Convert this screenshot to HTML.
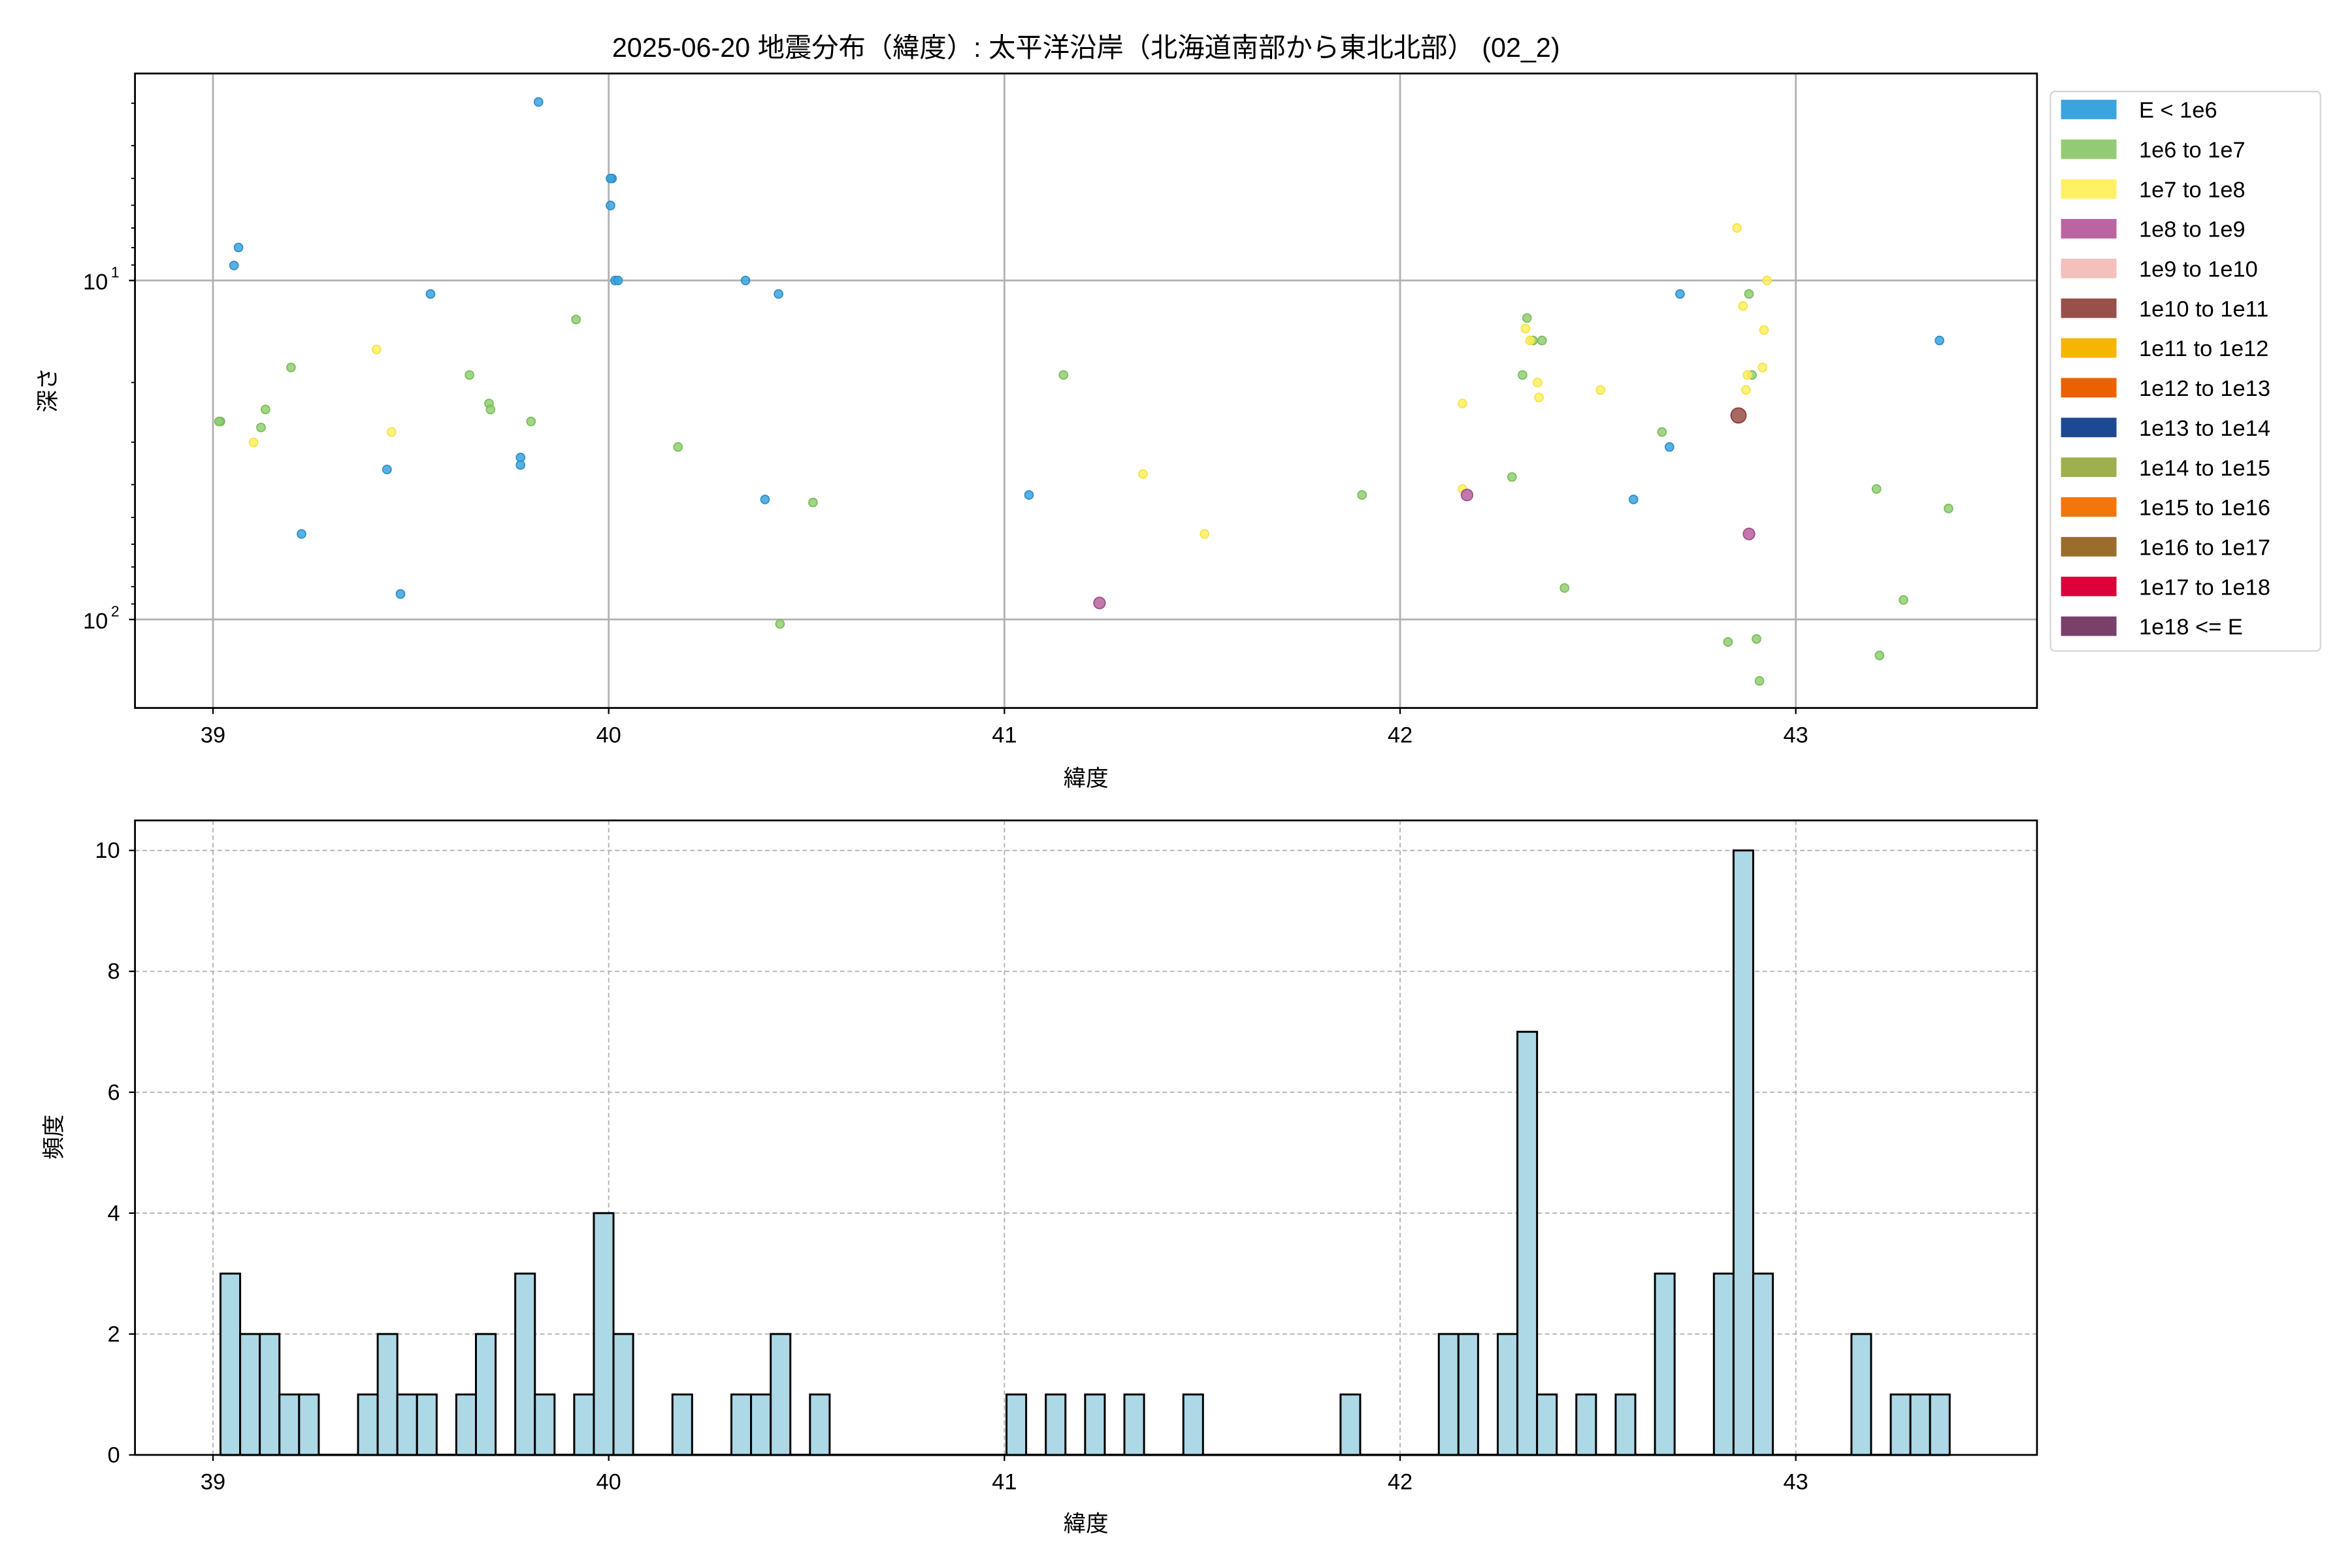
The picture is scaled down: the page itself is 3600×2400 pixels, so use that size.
<!DOCTYPE html>
<html><head><meta charset="utf-8"><style>
html,body{margin:0;padding:0;background:#fff;width:3600px;height:2400px;overflow:hidden;}
svg{display:block;overflow:hidden;font-family:"Liberation Sans","Noto Sans CJK JP",sans-serif;}
</style></head><body>
<svg id="s" xmlns="http://www.w3.org/2000/svg" width="3600" height="2400" viewBox="0 0 1568 1045.4" preserveAspectRatio="none">
<rect width="1568" height="1045.4" fill="#fff"/>
<text x="724" y="38" font-size="18" text-anchor="middle">2025-06-20 地震分布（緯度）: 太平洋沿岸（北海道南部から東北北部） (02_2)</text>
<g id="gtop"></g>
<g id="gbot"></g>
</svg>
<script>
(function(){
var NS="http://www.w3.org/2000/svg";
function el(p,t,a,txt){var e=document.createElementNS(NS,t);for(var k in a)e.setAttribute(k,a[k]);if(txt!==undefined)e.textContent=txt;p.appendChild(e);return e;}
var gt=document.getElementById('gtop'),gb=document.getElementById('gbot');
function X(l){return 142+(l-39)*263.8;}
[39,40,41,42,43].forEach(function(l){var x=X(l);
 el(gt,'line',{x1:x,y1:49,x2:x,y2:472,stroke:'#b0b0b0','stroke-width':1.2});
 el(gt,'line',{x1:x,y1:472,x2:x,y2:476,stroke:'#000','stroke-width':1});
 el(gt,'text',{x:x,y:495,'font-size':15,'text-anchor':'middle'},String(l));
 el(gb,'line',{x1:x,y1:547,x2:x,y2:970,stroke:'#b0b0b0','stroke-width':0.8,'stroke-dasharray':'3,2'});
 el(gb,'line',{x1:x,y1:970,x2:x,y2:974,stroke:'#000','stroke-width':1});
 el(gb,'text',{x:x,y:993,'font-size':15,'text-anchor':'middle'},String(l));
});
function Y(d){return 187+(Math.log10(d)-1)*226;}
[187,413].forEach(function(y,i){
 el(gt,'line',{x1:90,y1:y,x2:1358,y2:y,stroke:'#b0b0b0','stroke-width':1.2});
 el(gt,'line',{x1:86,y1:y,x2:90,y2:y,stroke:'#000','stroke-width':1});
 el(gt,'text',{x:72,y:y+6,'font-size':15,'text-anchor':'end'},'10');
 el(gt,'text',{x:74,y:y-2,'font-size':10,'text-anchor':'start'},i==0?'1':'2');
});
[3,4,5,6,7,8,9,20,30,40,50,60,70,80,90].forEach(function(d){var y=Y(d);
 el(gt,'line',{x1:87.5,y1:y,x2:90,y2:y,stroke:'#000','stroke-width':0.8});});
var C={b:['#3ba3dd','#2f8fc8'],g:['#8fcf70','#7cbd5d'],y:['#fff060','#f5e24a'],p:['#b8609f','#a04f8a'],r:['#9a4f48','#86403a']};
var P={b:[[359,68],[408,119],[407,119],[407,137],[159,165],[156,177],[410,187],[412,187],[497,187],[519,196],[287,196],[1120,196],[1293,227],[347,305],[347,310],[258,313],[510,333],[686,330],[1113,298],[1089,333],[201,356],[267,396]],
g:[[147,281],[146,281],[177,273],[174,285],[194,245],[313,250],[326,269],[327,273],[354,281],[384,213],[452,298],[542,335],[520,416],[709,250],[908,330],[1018,212],[1022,227],[1028,227],[1015,250],[1008,318],[1043,392],[1108,288],[1166,196],[1168,250],[1251,326],[1299,339],[1269,400],[1152,428],[1171,426],[1173,454],[1253,437]],
y:[[251,233],[169,295],[261,288],[762,316],[803,356],[975,269],[975,326],[1017,219],[1020,227],[1025,255],[1026,265],[1067,260],[1158,152],[1162,204],[1178,187],[1176,220],[1175,245],[1165,250],[1164,260]],
p:[[733,402],[978,330],[1166,356]],r:[[1159,277]]};
Object.keys(P).forEach(function(k){P[k].forEach(function(q){var r=(k=='p')?3.8:(k=='r'?5:2.8);
 el(gt,'circle',{cx:q[0],cy:q[1],r:r,fill:C[k][0],'fill-opacity':0.85,stroke:C[k][1],'stroke-width':0.8});});});
el(gt,'rect',{x:90,y:49,width:1268,height:423,fill:'none',stroke:'#000','stroke-width':1.2});
el(gt,'text',{x:724,y:524,'font-size':15,'text-anchor':'middle'},'緯度');
el(gt,'text',{x:0,y:0,'font-size':15,'text-anchor':'middle',transform:'translate(37,260) rotate(-90)'},'深さ');
el(gt,'rect',{x:1367,y:61,width:180,height:373,rx:3,fill:'#fff',stroke:'#d5d5d5','stroke-width':1});
var L=[['E < 1e6','#3ba3dd'],['1e6 to 1e7','#93cb75'],['1e7 to 1e8','#fff066'],['1e8 to 1e9','#bb64a2'],['1e9 to 1e10','#f5bfbc'],['1e10 to 1e11','#98504b'],['1e11 to 1e12','#f6b600'],['1e12 to 1e13','#eb6000'],['1e13 to 1e14','#1c4a92'],['1e14 to 1e15','#9daf4f'],['1e15 to 1e16','#f3760b'],['1e16 to 1e17','#9a6d2c'],['1e17 to 1e18','#dc003a'],['1e18 <= E','#7a406c']];
L.forEach(function(e,i){var y=73+i*26.5;
 el(gt,'rect',{x:1374,y:y-6.5,width:37,height:13,fill:e[1]});
 el(gt,'text',{x:1426,y:y+5.5,'font-size':15},e[0]);});
for(var h=0;h<=10;h+=2){var y=970-h*40.3;
 if(h>0)el(gb,'line',{x1:90,y1:y,x2:1358,y2:y,stroke:'#b0b0b0','stroke-width':0.8,'stroke-dasharray':'3,2'});
 el(gb,'line',{x1:86,y1:y,x2:90,y2:y,stroke:'#000','stroke-width':1});
 el(gb,'text',{x:80,y:y+5,'font-size':15,'text-anchor':'end'},String(h));}
var B=[[0,3],[1,2],[2,2],[3,1],[4,1],[7,1],[8,2],[9,1],[10,1],[12,1],[13,2],[15,3],[16,1],[18,1],[19,4],[20,2],[23,1],[26,1],[27,1],[28,2],[30,1],[40,1],[42,1],[44,1],[46,1],[49,1],[57,1],[62,2],[63,2],[65,2],[66,7],[67,1],[69,1],[71,1],[73,3],[76,3],[77,10],[78,3],[83,2],[85,1],[86,1],[87,1]];
el(gb,'line',{x1:147,y1:970,x2:147+13.1*88,y2:970,stroke:'#000','stroke-width':1.5});
B.forEach(function(b){var x=147+13.1*b[0],hh=b[1]*40.3;
 el(gb,'rect',{x:x,y:970-hh,width:13.1,height:hh,fill:'#add8e6',stroke:'#000','stroke-width':1.3});});
el(gb,'rect',{x:90,y:547,width:1268,height:423,fill:'none',stroke:'#000','stroke-width':1.2});
el(gb,'text',{x:724,y:1021,'font-size':15,'text-anchor':'middle'},'緯度');
el(gb,'text',{x:0,y:0,'font-size':15,'text-anchor':'middle',transform:'translate(41,758) rotate(-90)'},'頻度');
})();
</script>
</body></html>
